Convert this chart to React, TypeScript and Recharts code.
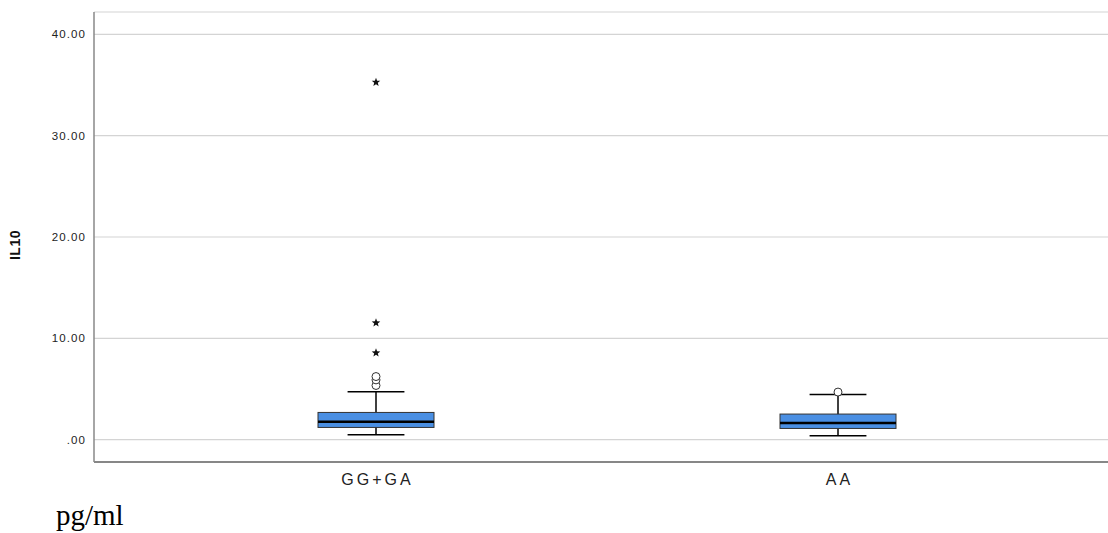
import React from "react";
import { ComposedChart, Bar, XAxis, YAxis, CartesianGrid } from "recharts";

const groups = ["GG+GA", "AA"];
const whiskerLow = [0.49, 0.39];
const q1 = [1.21, 1.11];
const median = [1.77, 1.64];
const q3 = [2.69, 2.53];
const whiskerHigh = [4.73, 4.46];
const mildOutliers = [[5.35, 5.9, 6.23], [4.7]];
const extremeOutliers = [[8.57, 11.53, 35.27], []];
const yTicks = [0, 10, 20, 30, 40];

const data = groups.map((g, i) => ({
  group: g,
  whisker: [whiskerLow[i], whiskerHigh[i]],
  lo: whiskerLow[i],
  hi: whiskerHigh[i],
  q1: q1[i],
  median: median[i],
  q3: q3[i],
  mild: mildOutliers[i],
  extreme: extremeOutliers[i],
}));

const SANS = "Liberation Sans, Arial, sans-serif";

function star(cx: number, cy: number, r: number) {
  const pts: string[] = [];
  for (let k = 0; k < 10; k++) {
    const rr = k % 2 === 0 ? r : r * 0.42;
    const a = -Math.PI / 2 + (k * Math.PI) / 5;
    pts.push(`${cx + rr * Math.cos(a)},${cy + rr * Math.sin(a)}`);
  }
  return pts.join(" ");
}

// draws the whole box plot from the bar's whisker range
const BoxShape = (props: any) => {
  const { x, y, width, height, payload } = props;
  const { lo, hi } = payload;
  const py = (v: number) => y + ((hi - v) / (hi - lo)) * height;
  const cx = x + width / 2;
  const cap = width * 0.49;
  return (
    <g>
      <line x1={cx} x2={cx} y1={py(hi)} y2={py(lo)} stroke="#000" strokeWidth={1.5} />
      <line x1={cx - cap / 2} x2={cx + cap / 2} y1={py(hi)} y2={py(hi)} stroke="#000" strokeWidth={1.5} />
      <line x1={cx - cap / 2} x2={cx + cap / 2} y1={py(lo)} y2={py(lo)} stroke="#000" strokeWidth={1.5} />
      <rect
        x={x}
        y={py(payload.q3)}
        width={width}
        height={py(payload.q1) - py(payload.q3)}
        fill="#4a8fe3"
        stroke="#333"
        strokeWidth={1}
      />
      <line x1={x} x2={x + width} y1={py(payload.median)} y2={py(payload.median)} stroke="#000" strokeWidth={2.5} />
      {payload.mild.map((v: number, k: number) => (
        <circle key={"m" + k} cx={cx} cy={py(v)} r={4} fill="#fff" stroke="#333" strokeWidth={1} />
      ))}
      {payload.extreme.map((v: number, k: number) => (
        <polygon key={"e" + k} points={star(cx, py(v), 4.5)} fill="#111" />
      ))}
    </g>
  );
};

const YTick = (props: any) => {
  const { x, y, payload } = props;
  const v = payload.value;
  return (
    <text x={x} y={y} dx={0} dy={4} textAnchor="end" fontSize={11.5} letterSpacing={1.1} fill="#222" fontFamily={SANS}>
      {v === 0 ? ".00" : v.toFixed(2)}
    </text>
  );
};

const XTick = (props: any) => {
  const { x, y, payload } = props;
  return (
    <text x={x} y={y} dx={1.5} dy={15} textAnchor="middle" fontSize={16} fill="#222" letterSpacing={3} fontFamily={SANS}>
      {payload.value}
    </text>
  );
};

const YLabel = (props: any) => {
  const { viewBox } = props;
  const cy = viewBox.y + viewBox.height / 2 + 8;
  return (
    <text
      x={20}
      y={cy}
      transform={`rotate(-90 20 ${cy})`}
      textAnchor="middle"
      fontSize={14}
      fontWeight="bold"
      letterSpacing={0.5}
      fill="#111"
      fontFamily={SANS}
    >
      IL10
    </text>
  );
};

export default function App() {
  return (
    <div style={{ position: "absolute", left: 0, top: 0, width: 1108, height: 533, background: "#fff" }}>
      <ComposedChart width={1108} height={533} data={data} margin={{ top: 12, right: 0, bottom: 41, left: 0 }}>
        <CartesianGrid vertical={false} stroke="#d4d4d4" strokeWidth={1.2} />
        <XAxis
          dataKey="group"
          type="category"
          padding={{ left: 51, right: 39 }}
          height={30}
          tickLine={false}
          axisLine={{ stroke: "#666", strokeWidth: 1.5 }}
          tick={<XTick />}
        />
        <YAxis
          type="number"
          domain={[-2.2, 42.2]}
          ticks={yTicks}
          width={94}
          tickLine={false}
          axisLine={{ stroke: "#888", strokeWidth: 1.5 }}
          tick={<YTick />}
          label={<YLabel />}
        />
        <Bar dataKey="whisker" barSize={116} shape={<BoxShape />} isAnimationActive={false} />
      </ComposedChart>
      <svg width={200} height={40} style={{ position: "absolute", left: 0, top: 493 }}>
        <text x={56} y={32} fontSize={29} fill="#000" fontFamily="Liberation Serif, Times New Roman, serif">
          pg/ml
        </text>
      </svg>
    </div>
  );
}
